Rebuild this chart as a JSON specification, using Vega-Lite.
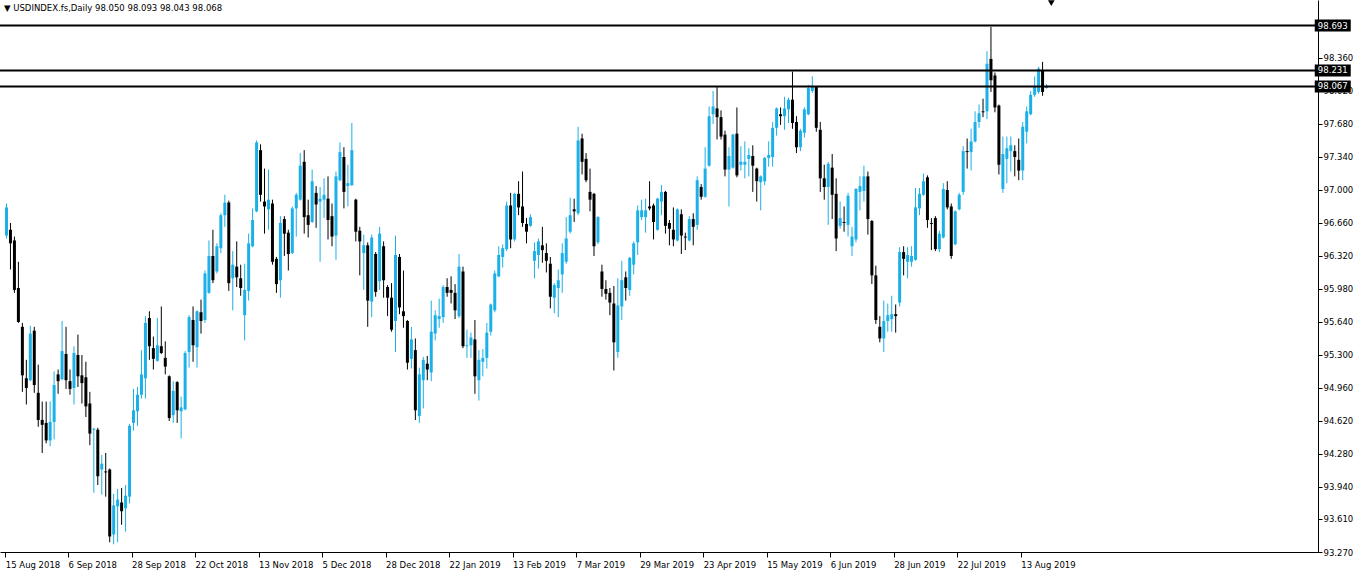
{
  "$schema": "https://vega.github.io/schema/vega-lite/v6.json",
  "width": 1318,
  "height": 552,
  "autosize": {"type": "none"},
  "padding": {"left": 0, "top": 0, "right": 40, "bottom": 25},
  "background": "#ffffff",
  "config": {
    "view": {"stroke": null},
    "axis": {"labelOverlap": false, "labelFlush": false, "labelBound": false, "grid": false, "title": null,
      "tickColor": "#000000", "domainColor": "#000000", "domainWidth": 1, "labelColor": "#000000",
      "labelFont": "DejaVu Sans", "labelFontSize": 8.5}
  },
  "title": {"text": "▼  USDINDEX.fs,Daily  98.050 98.093 98.043 98.068", "anchor": "start", "frame": "group", "offset": -12, "font": "DejaVu Sans", "fontSize": 8.5, "fontWeight": "normal", "color": "#000000", "dx": 4},
  "datasets": {
    "bars": [
      {"k":0,"o":96.53,"h":96.86,"l":96.50,"c":96.82},
      {"k":1,"o":96.59,"h":96.66,"l":96.18,"c":96.45},
      {"k":2,"o":96.48,"h":96.52,"l":95.94,"c":95.97},
      {"k":3,"o":95.99,"h":96.26,"l":95.63,"c":95.64},
      {"k":4,"o":95.59,"h":95.63,"l":94.92,"c":95.09},
      {"k":5,"o":95.06,"h":95.25,"l":94.79,"c":94.96},
      {"k":6,"o":95.04,"h":95.60,"l":95.03,"c":95.52},
      {"k":7,"o":95.55,"h":95.59,"l":94.91,"c":94.99},
      {"k":8,"o":94.91,"h":95.20,"l":94.56,"c":94.63},
      {"k":9,"o":94.63,"h":94.82,"l":94.29,"c":94.58},
      {"k":10,"o":94.60,"h":94.82,"l":94.39,"c":94.42},
      {"k":11,"o":94.42,"h":94.82,"l":94.36,"c":94.61},
      {"k":12,"o":94.61,"h":95.13,"l":94.43,"c":94.99},
      {"k":13,"o":95.10,"h":95.15,"l":94.90,"c":95.03},
      {"k":14,"o":95.05,"h":95.65,"l":95.04,"c":95.34},
      {"k":15,"o":95.31,"h":95.59,"l":94.95,"c":95.04},
      {"k":16,"o":95.03,"h":95.15,"l":94.89,"c":94.95},
      {"k":17,"o":94.96,"h":95.39,"l":94.79,"c":95.32},
      {"k":18,"o":95.30,"h":95.51,"l":94.97,"c":95.08},
      {"k":19,"o":95.09,"h":95.30,"l":94.80,"c":95.01},
      {"k":20,"o":95.07,"h":95.23,"l":94.66,"c":94.77},
      {"k":21,"o":94.80,"h":94.92,"l":94.37,"c":94.49},
      {"k":22,"o":94.53,"h":94.55,"l":93.88,"c":94.54},
      {"k":23,"o":94.53,"h":94.55,"l":93.96,"c":94.05},
      {"k":24,"o":94.12,"h":94.27,"l":93.86,"c":94.18},
      {"k":25,"o":94.10,"h":94.29,"l":93.84,"c":94.09},
      {"k":26,"o":94.12,"h":94.13,"l":93.37,"c":93.43},
      {"k":27,"o":93.45,"h":93.87,"l":93.35,"c":93.75},
      {"k":28,"o":93.74,"h":93.92,"l":93.37,"c":93.81},
      {"k":29,"o":93.78,"h":93.93,"l":93.55,"c":93.69},
      {"k":30,"o":93.72,"h":93.96,"l":93.48,"c":93.85},
      {"k":31,"o":93.84,"h":94.59,"l":93.77,"c":94.57},
      {"k":32,"o":94.60,"h":94.95,"l":94.52,"c":94.73},
      {"k":33,"o":94.72,"h":94.97,"l":94.57,"c":94.89},
      {"k":34,"o":94.89,"h":95.35,"l":94.85,"c":95.10},
      {"k":35,"o":95.06,"h":95.70,"l":94.85,"c":95.63},
      {"k":36,"o":95.68,"h":95.75,"l":95.25,"c":95.39},
      {"k":37,"o":95.37,"h":95.49,"l":95.15,"c":95.26},
      {"k":38,"o":95.24,"h":95.68,"l":95.23,"c":95.40},
      {"k":39,"o":95.39,"h":95.80,"l":95.31,"c":95.32},
      {"k":40,"o":95.27,"h":95.44,"l":95.10,"c":95.18},
      {"k":41,"o":95.08,"h":95.09,"l":94.62,"c":94.65},
      {"k":42,"o":94.68,"h":95.03,"l":94.60,"c":94.93},
      {"k":43,"o":95.02,"h":95.03,"l":94.60,"c":94.73},
      {"k":44,"o":94.72,"h":94.87,"l":94.44,"c":94.76},
      {"k":45,"o":94.74,"h":95.34,"l":94.73,"c":95.32},
      {"k":46,"o":95.33,"h":95.71,"l":95.17,"c":95.69},
      {"k":47,"o":95.66,"h":95.80,"l":95.23,"c":95.40},
      {"k":48,"o":95.38,"h":95.76,"l":95.17,"c":95.75},
      {"k":49,"o":95.74,"h":95.87,"l":95.52,"c":95.65},
      {"k":50,"o":95.66,"h":96.17,"l":95.63,"c":96.14},
      {"k":51,"o":95.94,"h":96.48,"l":95.93,"c":96.32},
      {"k":52,"o":96.32,"h":96.59,"l":96.04,"c":96.07},
      {"k":53,"o":96.16,"h":96.45,"l":96.14,"c":96.42},
      {"k":54,"o":96.40,"h":96.76,"l":96.35,"c":96.74},
      {"k":55,"o":96.74,"h":96.95,"l":96.62,"c":96.87},
      {"k":56,"o":96.87,"h":96.89,"l":95.96,"c":96.04},
      {"k":57,"o":96.09,"h":96.37,"l":95.76,"c":96.23},
      {"k":58,"o":96.21,"h":96.47,"l":96.00,"c":96.10},
      {"k":59,"o":96.09,"h":96.23,"l":95.91,"c":95.99},
      {"k":60,"o":95.71,"h":96.24,"l":95.45,"c":95.97},
      {"k":61,"o":95.96,"h":96.55,"l":95.86,"c":96.45},
      {"k":62,"o":96.42,"h":96.81,"l":96.41,"c":96.69},
      {"k":63,"o":96.78,"h":97.51,"l":96.77,"c":97.49},
      {"k":64,"o":97.41,"h":97.47,"l":96.88,"c":96.95},
      {"k":65,"o":96.88,"h":97.22,"l":96.55,"c":96.83},
      {"k":66,"o":96.80,"h":97.21,"l":96.59,"c":96.90},
      {"k":67,"o":96.86,"h":96.90,"l":96.23,"c":96.26},
      {"k":68,"o":96.29,"h":96.31,"l":95.94,"c":96.03},
      {"k":69,"o":96.07,"h":96.73,"l":95.89,"c":96.66},
      {"k":70,"o":96.70,"h":96.73,"l":96.32,"c":96.55},
      {"k":71,"o":96.56,"h":96.59,"l":96.17,"c":96.34},
      {"k":72,"o":96.35,"h":96.83,"l":96.34,"c":96.81},
      {"k":73,"o":96.81,"h":96.97,"l":96.52,"c":96.95},
      {"k":74,"o":96.90,"h":97.38,"l":96.89,"c":97.25},
      {"k":75,"o":97.29,"h":97.41,"l":96.55,"c":96.72},
      {"k":76,"o":96.74,"h":96.90,"l":96.51,"c":96.64},
      {"k":77,"o":96.67,"h":97.21,"l":96.66,"c":97.09},
      {"k":78,"o":96.97,"h":97.04,"l":96.61,"c":96.85},
      {"k":79,"o":96.88,"h":97.03,"l":96.26,"c":96.91},
      {"k":80,"o":96.90,"h":97.12,"l":96.71,"c":96.95},
      {"k":81,"o":96.91,"h":97.14,"l":96.49,"c":96.69},
      {"k":82,"o":96.73,"h":96.86,"l":96.42,"c":96.52},
      {"k":83,"o":96.53,"h":97.19,"l":96.28,"c":97.14},
      {"k":84,"o":97.10,"h":97.49,"l":97.09,"c":97.39},
      {"k":85,"o":97.34,"h":97.44,"l":96.81,"c":96.98},
      {"k":86,"o":97.04,"h":97.26,"l":96.83,"c":97.07},
      {"k":87,"o":97.05,"h":97.69,"l":97.04,"c":97.41},
      {"k":88,"o":96.90,"h":96.91,"l":96.47,"c":96.57},
      {"k":89,"o":96.58,"h":96.62,"l":96.12,"c":96.47},
      {"k":90,"o":96.35,"h":96.54,"l":95.97,"c":96.43},
      {"k":91,"o":96.43,"h":96.46,"l":95.59,"c":95.86},
      {"k":92,"o":95.85,"h":96.54,"l":95.69,"c":96.51},
      {"k":93,"o":96.34,"h":96.36,"l":95.90,"c":95.95},
      {"k":94,"o":96.06,"h":96.62,"l":95.97,"c":96.55},
      {"k":95,"o":96.42,"h":96.47,"l":95.89,"c":96.07},
      {"k":96,"o":96.00,"h":96.02,"l":95.70,"c":95.89},
      {"k":97,"o":95.89,"h":96.04,"l":95.54,"c":95.56},
      {"k":98,"o":95.65,"h":96.53,"l":95.33,"c":96.33},
      {"k":99,"o":96.31,"h":96.34,"l":95.72,"c":95.79},
      {"k":100,"o":95.75,"h":96.17,"l":95.58,"c":95.70},
      {"k":101,"o":95.65,"h":95.66,"l":95.15,"c":95.22},
      {"k":102,"o":95.26,"h":95.59,"l":95.16,"c":95.46},
      {"k":103,"o":95.35,"h":95.47,"l":94.63,"c":94.73},
      {"k":104,"o":94.67,"h":95.17,"l":94.60,"c":95.10},
      {"k":105,"o":95.04,"h":95.28,"l":94.75,"c":95.25},
      {"k":106,"o":95.21,"h":95.29,"l":95.04,"c":95.15},
      {"k":107,"o":95.12,"h":95.86,"l":95.03,"c":95.54},
      {"k":108,"o":95.52,"h":95.76,"l":95.45,"c":95.71},
      {"k":109,"o":95.67,"h":95.88,"l":95.58,"c":95.70},
      {"k":110,"o":95.69,"h":96.02,"l":95.63,"c":96.00},
      {"k":111,"o":96.00,"h":96.09,"l":95.90,"c":95.94},
      {"k":112,"o":95.97,"h":96.11,"l":95.83,"c":95.94},
      {"k":113,"o":95.94,"h":96.03,"l":95.67,"c":95.76},
      {"k":114,"o":95.70,"h":96.34,"l":95.68,"c":96.21},
      {"k":115,"o":96.16,"h":96.21,"l":95.37,"c":95.39},
      {"k":116,"o":95.39,"h":95.56,"l":95.27,"c":95.40},
      {"k":117,"o":95.40,"h":95.53,"l":95.27,"c":95.48},
      {"k":118,"o":95.46,"h":95.66,"l":94.90,"c":95.08},
      {"k":119,"o":95.04,"h":95.35,"l":94.83,"c":95.25},
      {"k":120,"o":95.23,"h":95.36,"l":95.08,"c":95.27},
      {"k":121,"o":95.27,"h":95.63,"l":95.16,"c":95.53},
      {"k":122,"o":95.54,"h":95.83,"l":95.50,"c":95.82},
      {"k":123,"o":95.76,"h":96.17,"l":95.74,"c":96.14},
      {"k":124,"o":96.11,"h":96.42,"l":96.10,"c":96.33},
      {"k":125,"o":96.31,"h":96.44,"l":96.20,"c":96.40},
      {"k":126,"o":96.39,"h":96.88,"l":96.37,"c":96.84},
      {"k":127,"o":96.84,"h":96.97,"l":96.40,"c":96.49},
      {"k":128,"o":96.49,"h":96.97,"l":96.47,"c":96.96},
      {"k":129,"o":96.96,"h":97.09,"l":96.74,"c":96.82},
      {"k":130,"o":96.83,"h":97.19,"l":96.62,"c":96.66},
      {"k":131,"o":96.65,"h":96.71,"l":96.45,"c":96.57},
      {"k":132,"o":96.63,"h":96.75,"l":96.62,"c":96.72},
      {"k":133,"o":96.27,"h":96.46,"l":96.09,"c":96.37},
      {"k":134,"o":96.33,"h":96.50,"l":96.19,"c":96.47},
      {"k":135,"o":96.43,"h":96.62,"l":96.25,"c":96.38},
      {"k":136,"o":96.35,"h":96.45,"l":96.15,"c":96.27},
      {"k":137,"o":96.24,"h":96.31,"l":95.78,"c":95.90},
      {"k":138,"o":95.89,"h":96.04,"l":95.73,"c":96.02},
      {"k":139,"o":95.99,"h":96.18,"l":95.69,"c":96.07},
      {"k":140,"o":96.13,"h":96.45,"l":95.94,"c":96.35},
      {"k":141,"o":96.26,"h":96.72,"l":96.24,"c":96.50},
      {"k":142,"o":96.57,"h":96.92,"l":96.55,"c":96.74},
      {"k":143,"o":96.80,"h":96.91,"l":96.67,"c":96.78},
      {"k":144,"o":96.76,"h":97.65,"l":96.74,"c":97.51},
      {"k":145,"o":97.53,"h":97.58,"l":97.16,"c":97.29},
      {"k":146,"o":97.32,"h":97.38,"l":97.08,"c":97.10},
      {"k":147,"o":96.98,"h":97.22,"l":96.78,"c":96.90},
      {"k":148,"o":96.96,"h":96.97,"l":96.32,"c":96.42},
      {"k":149,"o":96.46,"h":96.73,"l":96.44,"c":96.72},
      {"k":150,"o":96.16,"h":96.23,"l":95.90,"c":95.98},
      {"k":151,"o":95.98,"h":96.07,"l":95.87,"c":95.93},
      {"k":152,"o":95.94,"h":95.99,"l":95.71,"c":95.84},
      {"k":153,"o":95.83,"h":96.01,"l":95.14,"c":95.43},
      {"k":154,"o":95.33,"h":96.09,"l":95.27,"c":95.81},
      {"k":155,"o":95.80,"h":96.27,"l":95.66,"c":96.07},
      {"k":156,"o":96.10,"h":96.16,"l":95.86,"c":95.99},
      {"k":157,"o":95.97,"h":96.31,"l":95.91,"c":96.30},
      {"k":158,"o":96.23,"h":96.47,"l":96.13,"c":96.45},
      {"k":159,"o":96.46,"h":96.84,"l":96.33,"c":96.79},
      {"k":160,"o":96.72,"h":96.90,"l":96.69,"c":96.79},
      {"k":161,"o":96.72,"h":96.91,"l":96.56,"c":96.79},
      {"k":162,"o":96.83,"h":97.09,"l":96.79,"c":96.81},
      {"k":163,"o":96.84,"h":96.86,"l":96.49,"c":96.67},
      {"k":164,"o":96.59,"h":96.92,"l":96.58,"c":96.91},
      {"k":165,"o":96.88,"h":97.05,"l":96.74,"c":96.98},
      {"k":166,"o":96.98,"h":96.99,"l":96.55,"c":96.63},
      {"k":167,"o":96.66,"h":96.69,"l":96.43,"c":96.60},
      {"k":168,"o":96.59,"h":96.82,"l":96.42,"c":96.49},
      {"k":169,"o":96.48,"h":96.81,"l":96.47,"c":96.80},
      {"k":170,"o":96.75,"h":96.80,"l":96.34,"c":96.53},
      {"k":171,"o":96.52,"h":96.56,"l":96.38,"c":96.51},
      {"k":172,"o":96.48,"h":96.73,"l":96.47,"c":96.70},
      {"k":173,"o":96.70,"h":96.76,"l":96.43,"c":96.62},
      {"k":174,"o":96.64,"h":97.14,"l":96.59,"c":97.10},
      {"k":175,"o":97.03,"h":97.06,"l":96.90,"c":96.93},
      {"k":176,"o":96.93,"h":97.44,"l":96.92,"c":97.22},
      {"k":177,"o":97.25,"h":97.86,"l":97.24,"c":97.76},
      {"k":178,"o":97.78,"h":98.02,"l":97.68,"c":97.86},
      {"k":179,"o":97.84,"h":98.06,"l":97.52,"c":97.75},
      {"k":180,"o":97.75,"h":97.82,"l":97.52,"c":97.55},
      {"k":181,"o":97.57,"h":97.61,"l":97.14,"c":97.21},
      {"k":182,"o":97.21,"h":97.44,"l":96.83,"c":97.35},
      {"k":183,"o":97.23,"h":97.58,"l":97.22,"c":97.57},
      {"k":184,"o":97.58,"h":97.85,"l":97.13,"c":97.15},
      {"k":185,"o":97.26,"h":97.45,"l":97.20,"c":97.29},
      {"k":186,"o":97.26,"h":97.50,"l":97.12,"c":97.29},
      {"k":187,"o":97.32,"h":97.43,"l":97.14,"c":97.36},
      {"k":188,"o":97.35,"h":97.46,"l":96.98,"c":97.25},
      {"k":189,"o":97.22,"h":97.23,"l":96.88,"c":97.09},
      {"k":190,"o":97.08,"h":97.15,"l":96.79,"c":97.14},
      {"k":191,"o":97.09,"h":97.34,"l":97.05,"c":97.33},
      {"k":192,"o":97.33,"h":97.50,"l":97.24,"c":97.36},
      {"k":193,"o":97.34,"h":97.70,"l":97.24,"c":97.64},
      {"k":194,"o":97.64,"h":97.85,"l":97.56,"c":97.84},
      {"k":195,"o":97.78,"h":97.85,"l":97.67,"c":97.76},
      {"k":196,"o":97.76,"h":97.96,"l":97.62,"c":97.84},
      {"k":197,"o":97.83,"h":97.95,"l":97.69,"c":97.93},
      {"k":198,"o":97.93,"h":98.22,"l":97.63,"c":97.69},
      {"k":199,"o":97.70,"h":97.76,"l":97.38,"c":97.44},
      {"k":200,"o":97.44,"h":97.63,"l":97.40,"c":97.61},
      {"k":201,"o":97.59,"h":97.85,"l":97.54,"c":97.83},
      {"k":202,"o":97.78,"h":98.08,"l":97.77,"c":98.05},
      {"k":203,"o":98.02,"h":98.17,"l":98.00,"c":98.06},
      {"k":204,"o":98.06,"h":98.07,"l":97.60,"c":97.64},
      {"k":205,"o":97.62,"h":97.70,"l":96.98,"c":97.12},
      {"k":206,"o":97.12,"h":97.26,"l":96.90,"c":97.03},
      {"k":207,"o":97.03,"h":97.29,"l":96.64,"c":97.27},
      {"k":208,"o":97.23,"h":97.37,"l":96.70,"c":96.95},
      {"k":209,"o":96.96,"h":97.12,"l":96.37,"c":96.50},
      {"k":210,"o":96.63,"h":96.88,"l":96.60,"c":96.71},
      {"k":211,"o":96.67,"h":96.83,"l":96.57,"c":96.66},
      {"k":212,"o":96.64,"h":96.97,"l":96.52,"c":96.94},
      {"k":213,"o":96.42,"h":96.62,"l":96.32,"c":96.52},
      {"k":214,"o":96.49,"h":97.02,"l":96.46,"c":97.01},
      {"k":215,"o":96.98,"h":97.14,"l":96.79,"c":97.04},
      {"k":216,"o":96.99,"h":97.25,"l":96.88,"c":97.14},
      {"k":217,"o":97.14,"h":97.19,"l":96.54,"c":96.70},
      {"k":218,"o":96.68,"h":96.69,"l":96.03,"c":96.12},
      {"k":219,"o":96.12,"h":96.22,"l":95.62,"c":95.66},
      {"k":220,"o":95.59,"h":95.70,"l":95.43,"c":95.47},
      {"k":221,"o":95.47,"h":95.86,"l":95.33,"c":95.65},
      {"k":222,"o":95.65,"h":95.83,"l":95.54,"c":95.71},
      {"k":223,"o":95.67,"h":95.91,"l":95.54,"c":95.72},
      {"k":224,"o":95.72,"h":95.82,"l":95.53,"c":95.70},
      {"k":225,"o":95.84,"h":96.41,"l":95.80,"c":96.36},
      {"k":226,"o":96.36,"h":96.42,"l":96.12,"c":96.29},
      {"k":227,"o":96.26,"h":96.41,"l":96.09,"c":96.33},
      {"k":228,"o":96.26,"h":96.42,"l":96.21,"c":96.32},
      {"k":229,"o":96.28,"h":97.02,"l":96.27,"c":96.82},
      {"k":230,"o":96.81,"h":97.02,"l":96.74,"c":96.96},
      {"k":231,"o":96.95,"h":97.17,"l":96.94,"c":97.09},
      {"k":232,"o":97.13,"h":97.15,"l":96.61,"c":96.69},
      {"k":233,"o":96.66,"h":96.71,"l":96.38,"c":96.65},
      {"k":234,"o":96.71,"h":96.73,"l":96.37,"c":96.39},
      {"k":235,"o":96.39,"h":96.58,"l":96.36,"c":96.55},
      {"k":236,"o":96.51,"h":97.07,"l":96.50,"c":97.01},
      {"k":237,"o":97.00,"h":97.09,"l":96.80,"c":96.82},
      {"k":238,"o":96.83,"h":96.86,"l":96.29,"c":96.32},
      {"k":239,"o":96.44,"h":96.79,"l":96.43,"c":96.78},
      {"k":240,"o":96.80,"h":96.97,"l":96.79,"c":96.95},
      {"k":241,"o":96.98,"h":97.45,"l":96.95,"c":97.40},
      {"k":242,"o":97.40,"h":97.53,"l":97.22,"c":97.39},
      {"k":243,"o":97.39,"h":97.63,"l":97.20,"c":97.50},
      {"k":244,"o":97.50,"h":97.81,"l":97.49,"c":97.70},
      {"k":245,"o":97.70,"h":97.88,"l":97.64,"c":97.79},
      {"k":246,"o":97.81,"h":97.94,"l":97.75,"c":97.80},
      {"k":247,"o":97.81,"h":98.43,"l":97.73,"c":98.30},
      {"k":248,"o":98.35,"h":98.68,"l":98.01,"c":98.13},
      {"k":249,"o":98.18,"h":98.21,"l":97.80,"c":97.85},
      {"k":250,"o":97.87,"h":97.88,"l":97.16,"c":97.26},
      {"k":251,"o":97.01,"h":97.55,"l":96.97,"c":97.37},
      {"k":252,"o":97.32,"h":97.55,"l":97.07,"c":97.43},
      {"k":253,"o":97.40,"h":97.55,"l":97.19,"c":97.46},
      {"k":254,"o":97.40,"h":97.46,"l":97.14,"c":97.34},
      {"k":255,"o":97.31,"h":97.53,"l":97.10,"c":97.20},
      {"k":256,"o":97.20,"h":97.70,"l":97.10,"c":97.65},
      {"k":257,"o":97.60,"h":97.86,"l":97.48,"c":97.81},
      {"k":258,"o":97.78,"h":98.02,"l":97.77,"c":97.98},
      {"k":259,"o":97.98,"h":98.17,"l":97.96,"c":98.06},
      {"k":260,"o":98.01,"h":98.27,"l":97.99,"c":98.25},
      {"k":261,"o":98.23,"h":98.32,"l":97.97,"c":98.01},
      {"k":262,"o":98.050,"h":98.093,"l":98.043,"c":98.068}
    ],
    "levels": [{"p": 98.693}, {"p": 98.231}, {"p": 98.067}]
  },
  "layer": [
    {
      "data": {"name": "bars"},
      "mark": {"type": "rule", "strokeWidth": 1},
      "encoding": {
        "x": {"field": "k", "type": "quantitative",
          "scale": {"domain": [-0.375, 329.125], "nice": false, "zero": false},
          "axis": {
            "values": [-0.3, 15.5, 31.5, 47.5, 63.5, 79.5, 95.5, 111.5, 127.5, 143.5, 159.5, 175.5, 191.5, 207.5, 223.5, 239.5, 255.5],
            "labelExpr": "['15 Aug 2018','6 Sep 2018','28 Sep 2018','22 Oct 2018','13 Nov 2018','5 Dec 2018','28 Dec 2018','22 Jan 2019','13 Feb 2019','7 Mar 2019','29 Mar 2019','23 Apr 2019','15 May 2019','6 Jun 2019','28 Jun 2019','22 Jul 2019','13 Aug 2019'][round((datum.value + 0.5) / 16)]",
            "labelAlign": "left", "labelBaseline": "top", "labelDx": 2, "labelPadding": 3,
            "labelOverlap": false, "tickSize": 5, "tickCount": 40}},
        "y": {"field": "l", "type": "quantitative",
          "scale": {"domain": [93.27, 98.957], "nice": false, "zero": false},
          "axis": {"orient": "right",
            "values": [93.27, 93.61, 93.94, 94.28, 94.62, 94.96, 95.30, 95.64, 95.98, 96.32, 96.66, 97.00, 97.34, 97.68, 98.02, 98.36],
            "format": ".3f", "labelBaseline": "middle", "labelPadding": 1,
            "labelOverlap": false, "tickSize": 4, "tickCount": 40}},
        "y2": {"field": "h"},
        "color": {"condition": {"test": "datum.c >= datum.o", "value": "#1BB0E8"}, "value": "#000000"}
      }
    },
    {
      "data": {"name": "bars"},
      "mark": {"type": "bar", "size": 3},
      "encoding": {
        "x": {"field": "k", "type": "quantitative"},
        "y": {"field": "o", "type": "quantitative"},
        "y2": {"field": "c"},
        "color": {"condition": {"test": "datum.c >= datum.o", "value": "#1BB0E8"}, "value": "#000000"}
      }
    },
    {
      "data": {"name": "levels"},
      "mark": {"type": "rule", "strokeWidth": 2, "color": "#000000"},
      "encoding": {
        "y": {"field": "p", "type": "quantitative"}
      }
    },
    {
      "data": {"name": "levels"},
      "mark": {"type": "tick", "orient": "horizontal", "thickness": 12, "color": "#000000", "opacity": 1, "clip": false},
      "encoding": {
        "x": {"datum": 334.1, "type": "quantitative"},
        "y": {"field": "p", "type": "quantitative"},
        "size": {"value": 36}
      }
    },
    {
      "data": {"name": "levels"},
      "mark": {"type": "text", "color": "#ffffff", "font": "DejaVu Sans", "fontSize": 8.5, "align": "center", "baseline": "middle", "clip": false},
      "encoding": {
        "x": {"datum": 334.1, "type": "quantitative"},
        "y": {"field": "p", "type": "quantitative"},
        "text": {"field": "p", "type": "quantitative", "format": ".3f"}
      }
    },
    {
      "data": {"values": [{}]},
      "mark": {"type": "point", "shape": "triangle-down", "filled": true, "opacity": 1, "color": "#000000", "size": 45, "clip": false},
      "encoding": {
        "x": {"datum": 263.2, "type": "quantitative"},
        "y": {"datum": 98.925, "type": "quantitative"}
      }
    }
  ]
}
